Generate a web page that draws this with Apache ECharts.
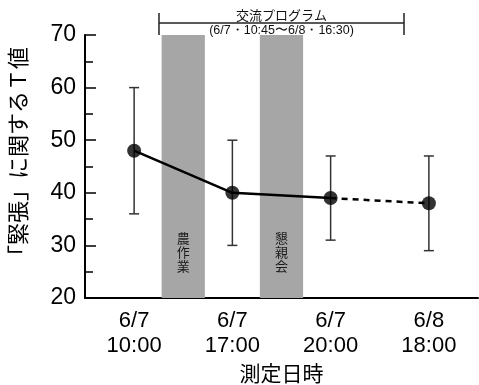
<!DOCTYPE html>
<html>
<head>
<meta charset="utf-8">
<script src="https://cdn.jsdelivr.net/npm/echarts@6/dist/echarts.min.js"></script>
<style>html,body{margin:0;padding:0;background:#fff;}#c{width:479px;height:385px;}</style>
</head>
<body>
<div id="c"></div>
<script>
// ---- data ----
const categories = ['6/7\n10:00', '6/7\n17:00', '6/7\n20:00', '6/8\n18:00'];
const means = [48, 40, 39, 38];
const upper = [60, 50, 47, 47];
const lower = [36, 30, 31, 29];
const solidPart = [48, 40, 39, '-'];
const dashedPart = ['-', '-', 39, 38];
const bandStart = [0.78, 1.78];      // position on category scale (0..4)
const bandEnd = [1.22, 2.22];
const bandLabels = ['農\n作\n業', '懇\n親\n会'];
const programStart = 0.753;
const programEnd = 3.247;
const programTitle = '交流プログラム';
const programSub = '(6/7・10:45〜6/8・16:30)';
const yName = '「緊張」に関するＴ値';
const xName = '測定日時';
const yTicks = { min: 20, max: 70, interval: 10 };

const JP = '"Noto Sans CJK JP", sans-serif';
const NUM = '"Liberation Sans", Arial, sans-serif';

const chart = echarts.init(document.getElementById('c'));

chart.setOption({
  animation: false,
  backgroundColor: '#fff',
  grid: { left: 85, right: 1, top: 35, bottom: 87, outerBoundsMode: 'none' },
  graphic: [{
    type: 'text',
    left: 7, top: 47,
    rotation: Math.PI / 2,
    style: { text: yName, fill: '#000', font: '22px ' + JP }
  }],
  xAxis: [{
    type: 'category',
    data: categories,
    boundaryGap: true,
    axisLine: { lineStyle: { color: '#000', width: 2 } },
    axisTick: { inside: true, alignWithLabel: true, length: 7, lineStyle: { color: '#000', width: 1.5 } },
    axisLabel: { color: '#000', fontFamily: NUM, fontSize: 22, lineHeight: 25, margin: 10 },
    name: xName,
    nameLocation: 'middle',
    nameGap: 64,
    nameTextStyle: { color: '#000', fontFamily: JP, fontSize: 21 }
  }, {
    type: 'value', min: 0, max: 4, show: false
  }],
  yAxis: {
    type: 'value',
    min: yTicks.min, max: yTicks.max, interval: yTicks.interval,
    axisLine: { show: true, lineStyle: { color: '#000', width: 2 } },
    axisTick: { show: true, inside: true, length: 11, lineStyle: { color: '#000', width: 1.5 } },
    minorTick: { show: true, splitNumber: 2, length: 8, lineStyle: { color: '#000', width: 1.5 } },
    splitLine: { show: false },
    axisLabel: { color: '#000', fontFamily: NUM, fontSize: 23, margin: 9 }
  },
  series: [
    {
      type: 'line',
      xAxisIndex: 1,
      data: [],
      z: 1,
      markArea: {
        silent: true,
        itemStyle: { color: '#a6a6a6', opacity: 1 },
        label: {
          position: 'insideBottom', distance: 25,
          color: '#1a1a1a', fontFamily: JP, fontSize: 13, lineHeight: 14
        },
        data: bandStart.map(function (s, i) {
          return [
            { name: bandLabels[i], xAxis: s, yAxis: yTicks.max },
            { xAxis: bandEnd[i], yAxis: yTicks.min }
          ];
        })
      }
    },
    {
      type: 'custom',
      xAxisIndex: 1,
      data: [[programStart, programEnd]],
      z: 5,
      clip: false,
      renderItem: function (params, api) {
        const a = api.coord([api.value(0), yTicks.max]);
        const b = api.coord([api.value(1), yTicks.max]);
        const top = a[1];
        const ly = top - 12;
        return {
          type: 'group',
          children: [
            { type: 'line', shape: { x1: a[0], y1: ly, x2: b[0], y2: ly }, style: { stroke: '#222', lineWidth: 1.5 } },
            { type: 'line', shape: { x1: a[0], y1: top - 22, x2: a[0], y2: top }, style: { stroke: '#222', lineWidth: 1.5 } },
            { type: 'line', shape: { x1: b[0], y1: top - 22, x2: b[0], y2: top }, style: { stroke: '#222', lineWidth: 1.5 } },
            { type: 'text', x: (a[0] + b[0]) / 2, y: ly - 1, style: { text: programTitle, fill: '#111', font: '13px ' + JP, align: 'center', verticalAlign: 'bottom' } },
            { type: 'text', x: (a[0] + b[0]) / 2, y: ly + 1, style: { text: programSub, fill: '#111', font: '12.5px ' + NUM, align: 'center', verticalAlign: 'top' } }
          ]
        };
      }
    },
    {
      type: 'custom',
      data: categories.map((c, i) => [i, lower[i], upper[i]]),
      z: 3,
      renderItem: function (params, api) {
        const lo = api.coord([api.value(0), api.value(1)]);
        const hi = api.coord([api.value(0), api.value(2)]);
        const w = 5;
        const st = { stroke: '#333', lineWidth: 1.5 };
        return {
          type: 'group',
          children: [
            { type: 'line', shape: { x1: lo[0], y1: lo[1], x2: hi[0], y2: hi[1] }, style: st },
            { type: 'line', shape: { x1: lo[0] - w, y1: lo[1], x2: lo[0] + w, y2: lo[1] }, style: st },
            { type: 'line', shape: { x1: hi[0] - w, y1: hi[1], x2: hi[0] + w, y2: hi[1] }, style: st }
          ]
        };
      }
    },
    {
      type: 'line', data: solidPart, symbol: 'none', z: 4,
      lineStyle: { color: '#000', width: 2.5 }
    },
    {
      type: 'line', data: dashedPart, symbol: 'none', z: 4,
      lineStyle: { color: '#000', width: 2.5, type: [6, 5] }
    },
    {
      type: 'scatter', data: means, symbol: 'circle', symbolSize: 14, z: 6,
      itemStyle: { color: '#000' }
    }
  ]
});
</script>
</body>
</html>
